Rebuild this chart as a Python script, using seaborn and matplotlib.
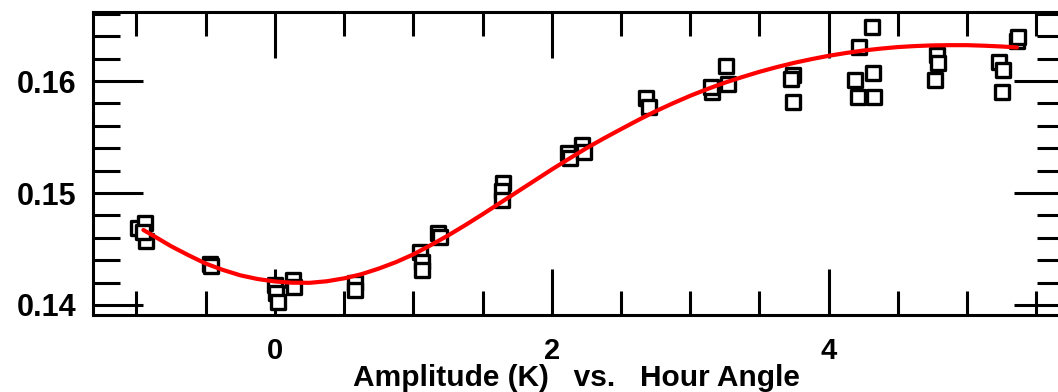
import matplotlib
matplotlib.use("Agg")
import matplotlib.pyplot as plt
import seaborn as sns
import pandas as pd
from matplotlib.ticker import MultipleLocator, FixedLocator, FormatStrFormatter

sns.set_theme(style="white")
plt.rcParams["font.family"] = ["Liberation Sans", "DejaVu Sans"]

# Measured amplitude samples against hour angle
hour_angle = [-0.99, -0.94, -0.93, -0.95,
              -0.47, -0.46,
              0.00, 0.01, 0.02, 0.13, 0.14,
              0.58, 0.58,
              1.05, 1.06, 1.06, 1.18, 1.19,
              1.65, 1.64, 1.64,
              2.12, 2.13, 2.22, 2.23,
              2.68, 2.70,
              3.16, 3.15, 3.26, 3.27,
              3.74, 3.73, 3.74,
              4.31, 4.22, 4.19, 4.32, 4.21, 4.33,
              4.78, 4.79, 4.77,
              5.23, 5.26, 5.25, 5.36, 5.37]
amplitude = [0.1469, 0.1473, 0.1457, 0.1465,
             0.1437, 0.1435,
             0.1418, 0.1411, 0.1403, 0.1422, 0.1416,
             0.1420, 0.1413,
             0.1447, 0.1438, 0.1431, 0.1464, 0.1461,
             0.1509, 0.1502, 0.1494,
             0.1536, 0.1531, 0.1543, 0.1537,
             0.1585, 0.1577,
             0.1590, 0.1595, 0.1613, 0.1597,
             0.1605, 0.1602, 0.1581,
             0.1648, 0.1630, 0.1601, 0.1607, 0.1586, 0.1586,
             0.1623, 0.1616, 0.1601,
             0.1617, 0.1610, 0.1590, 0.1636, 0.1639]

# Fitted curve
fit_x = [-0.95, -0.85, -0.75, -0.625, -0.5, -0.375, -0.25, -0.125, 0.0,
         0.125, 0.25, 0.375, 0.5, 0.625, 0.75, 0.875, 1.0, 1.125, 1.25,
         1.375, 1.5, 1.625, 1.75, 1.875, 2.0, 2.125, 2.25, 2.375, 2.5,
         2.625, 2.75, 2.875, 3.0, 3.125, 3.25, 3.375, 3.5, 3.625, 3.75,
         3.875, 4.0, 4.125, 4.25, 4.375, 4.5, 4.625, 4.75, 4.875, 5.0,
         5.125, 5.25, 5.36]
fit_y = [0.14670, 0.14598, 0.14525, 0.14445, 0.14370, 0.14313, 0.14265,
         0.14232, 0.14210, 0.14199, 0.14198, 0.14212, 0.14238, 0.14275,
         0.14325, 0.14383, 0.14452, 0.14534, 0.14620, 0.14713, 0.14810,
         0.14910, 0.15010, 0.15110, 0.15210, 0.15306, 0.15400, 0.15487,
         0.15570, 0.15652, 0.15730, 0.15801, 0.15868, 0.15929, 0.15985,
         0.16035, 0.16082, 0.16124, 0.16162, 0.16195, 0.16225, 0.16250,
         0.16272, 0.16289, 0.16303, 0.16312, 0.16318, 0.16320, 0.16320,
         0.16315, 0.16308, 0.16300]

x_major = [0, 2, 4]
x_labels = ["0", "2", "4"]
y_major = [0.14, 0.15, 0.16]

pts = pd.DataFrame({"hour_angle": hour_angle, "amplitude": amplitude})
fit = pd.DataFrame({"hour_angle": fit_x, "amplitude": fit_y})

W, H = 1058, 392
fig = plt.figure(figsize=(W / 100, H / 100), dpi=100)
ax = fig.add_axes([93 / W, (H - 315) / H, (1064 - 93) / W, (315 - 12) / H])

sns.scatterplot(data=pts, x="hour_angle", y="amplitude", ax=ax, marker="s",
                s=100, facecolor="white", edgecolor="black", linewidth=2.4,
                zorder=3)
sns.lineplot(data=fit, x="hour_angle", y="amplitude", ax=ax, color="#ff0000",
             linewidth=3.0, zorder=4, sort=False)

ax.set_xlim(-1.314, 5.70)
ax.set_ylim(0.139107, 0.166161)

ax.xaxis.set_major_locator(FixedLocator(x_major))
ax.set_xticklabels(x_labels)
ax.xaxis.set_minor_locator(MultipleLocator(0.5))
ax.yaxis.set_major_locator(FixedLocator(y_major))
ax.yaxis.set_major_formatter(FormatStrFormatter("%.2f"))
ax.yaxis.set_minor_locator(MultipleLocator(0.002))

for side in ax.spines.values():
    side.set_linewidth(2.2)
    side.set_color("black")

ax.tick_params(which="both", direction="in", top=True, right=True,
               bottom=True, left=True, color="black", width=2.2)
ax.tick_params(axis="x", which="major", length=33, pad=16, labelsize=21)
ax.tick_params(axis="x", which="minor", length=17)
ax.tick_params(axis="y", which="major", length=36, pad=12, labelsize=22)
ax.tick_params(axis="y", which="minor", length=19.5)
for lab in ax.get_xticklabels() + ax.get_yticklabels():
    lab.set_fontweight("bold")
    lab.set_color("black")

ax.set_xlabel("")
ax.set_ylabel("")
fig.text(576 / W, (H - 386) / H, "Amplitude (K)   vs.   Hour Angle",
         ha="center", va="baseline", fontsize=21.5, fontweight="bold",
         color="black")

fig.savefig("out.png", dpi=100, facecolor="white")
